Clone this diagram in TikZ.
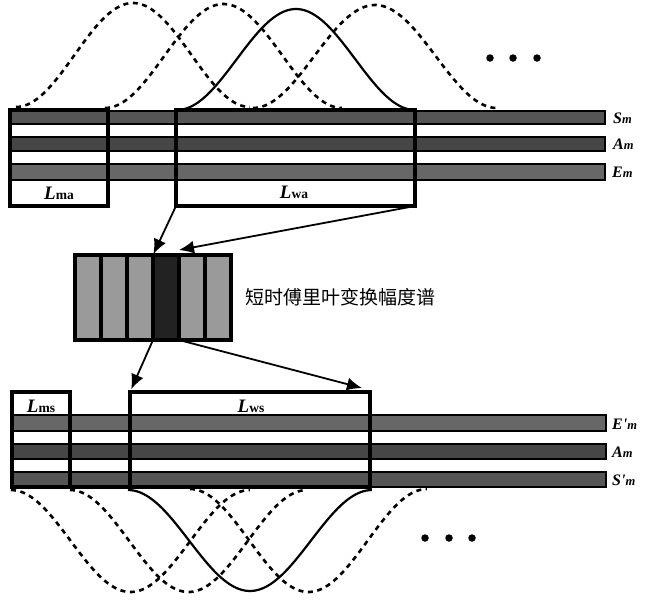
\documentclass[tikz,border=0pt]{standalone}
\usepackage{fontspec}
\setmainfont{Liberation Serif}
\newfontfamily\cjk{Noto Sans CJK SC}
\usetikzlibrary{arrows.meta}
\definecolor{gS}{HTML}{555555}
\definecolor{gA}{HTML}{464646}
\definecolor{gE}{HTML}{676767}
\definecolor{colL}{HTML}{9A9A9A}
\definecolor{colD}{HTML}{222222}
\newcommand{\BigL}[1]{{\fontsize{19pt}{19pt}\selectfont\bfseries\itshape L}{\fontsize{13.5pt}{13.5pt}\selectfont\bfseries #1}}
\newcommand{\SigLab}[2]{{\fontsize{16pt}{16pt}\selectfont\bfseries\itshape #1}{\fontsize{12.5pt}{12.5pt}\selectfont\bfseries\itshape #2}}
\begin{document}
\begin{tikzpicture}[x=1pt,y=-1pt,
  bar/.style={draw=black, line width=1.8pt},
  tbox/.style={draw=black, line width=3.2pt, inner sep=0pt, outer sep=0pt, anchor=north west},
  col/.style={draw=black, line width=3.2pt, inner sep=0pt, outer sep=0pt, anchor=north west, minimum width=26pt, minimum height=85pt},
  dsh/.style={line width=2.6pt, dash pattern=on 5pt off 4.5pt},
  sol/.style={line width=2.2pt},
  arr/.style={line width=1.8pt, -{Latex[length=15pt,width=13pt]}},
  lab/.style={inner sep=0pt, anchor=base},
  sig/.style={inner sep=0pt, anchor=west},
  dot/.style={fill=black, circle, inner sep=0pt, minimum size=7.5pt}
]
\useasboundingbox (0,0) rectangle (659,600);

% ---------- top curves ----------
\draw[dsh] plot[domain=0:1,samples=80] ({16+234*\x},{107-104*(0.5-0.5*cos(360*\x))});
\draw[dsh] plot[domain=0:1,samples=80] ({105+237*\x},{108-104*(0.5-0.5*cos(360*\x))});
\draw[dsh] plot[domain=0:1,samples=80] ({253+244*\x},{108-103*(0.5-0.5*cos(360*\x))});
\draw[sol] plot[domain=0:1,samples=80] ({177+238*\x},{110-101*(0.5-0.5*cos(360*\x))});
\node[dot] (td1) at (490,58) {};
\node[dot] (td2) at (513,58) {};
\node[dot] (td3) at (537,58) {};

% ---------- top bars ----------
\filldraw[bar, fill=gS] (10,111) rectangle (605,124);
\filldraw[bar, fill=gA] (10,137) rectangle (605,151);
\filldraw[bar, fill=gE] (10,164) rectangle (605,180);
\node[tbox, minimum width=98pt, minimum height=96pt] (Lma) at (10,110) {};
\node[tbox, minimum width=239pt, minimum height=96pt] (Lwa) at (176,110) {};
\node[lab] (tLma) at (59,199) {\BigL{ma}};
\node[lab] (tLwa) at (294,198) {\BigL{wa}};
\node[sig] (tSm) at (613,118) {\SigLab{S}{m}};
\node[sig] (tAm) at (613,144) {\SigLab{A}{m}};
\node[sig] (tEm) at (612,172) {\SigLab{E}{m}};

% ---------- spectrogram ----------
\node[col, fill=colL] (c1) at (75,255) {};
\node[col, fill=colL] (c2) at (101,255) {};
\node[col, fill=colL] (c3) at (127,255) {};
\node[col, fill=colD] (c4) at (153,255) {};
\node[col, fill=colL] (c5) at (179,255) {};
\node[col, fill=colL] (c6) at (205,255) {};
\node[inner sep=0pt, anchor=west] (stft) at (245,297) {\cjk\fontsize{19pt}{19pt}\selectfont 短时傅里叶变换幅度谱};

% ---------- bottom bars ----------
\filldraw[bar, fill=gE] (12,415) rectangle (606,431);
\filldraw[bar, fill=gA] (12,444) rectangle (606,459);
\filldraw[bar, fill=gS] (12,472) rectangle (606,487);
\node[tbox, minimum width=58pt, minimum height=95pt] (Lms) at (12,392) {};
\node[tbox, minimum width=240pt, minimum height=95pt] (Lws) at (130,392) {};
\draw[line width=3.2pt] (Lms.south east) -- (Lws.south west);
\node[lab] (tLms) at (41,412) {\BigL{ms}};
\node[lab] (tLws) at (251,412) {\BigL{ws}};
\node[sig] (tEpm) at (612,424) {\SigLab{E\textquotesingle}{m}};
\node[sig] (tApm) at (612,452) {\SigLab{A}{m}};
\node[sig] (tSpm) at (612,480) {\SigLab{S\textquotesingle}{m}};

% ---------- bottom curves ----------
\draw[dsh] plot[domain=0:1,samples=80] ({11+239*\x},{490+102*(0.5-0.5*cos(360*\x))});
\draw[dsh] plot[domain=0:1,samples=80] ({70+237*\x},{490+102*(0.5-0.5*cos(360*\x))});
\draw[dsh] plot[domain=0:1,samples=80] ({190+237*\x},{489+103*(0.5-0.5*cos(360*\x))});
\draw[sol] plot[domain=0:1,samples=80] ({128+244*\x},{490+101*(0.5-0.5*cos(360*\x))});
\node[dot] (bd1) at (425,538) {};
\node[dot] (bd2) at (449,538) {};
\node[dot] (bd3) at (472,538) {};

% ---------- arrows ----------
\draw[arr, shorten >=1pt] (Lwa.south west) -- (c4.north west);
\draw[arr] (Lwa.south east) -- ([yshift=5pt]c5.north west);
\draw[arr, shorten >=3pt] (c4.south west) -- (Lws.north west);
\draw[arr] (c4.south east) -- ([xshift=-8pt,yshift=4pt]Lws.north east);
\end{tikzpicture}
\end{document}
